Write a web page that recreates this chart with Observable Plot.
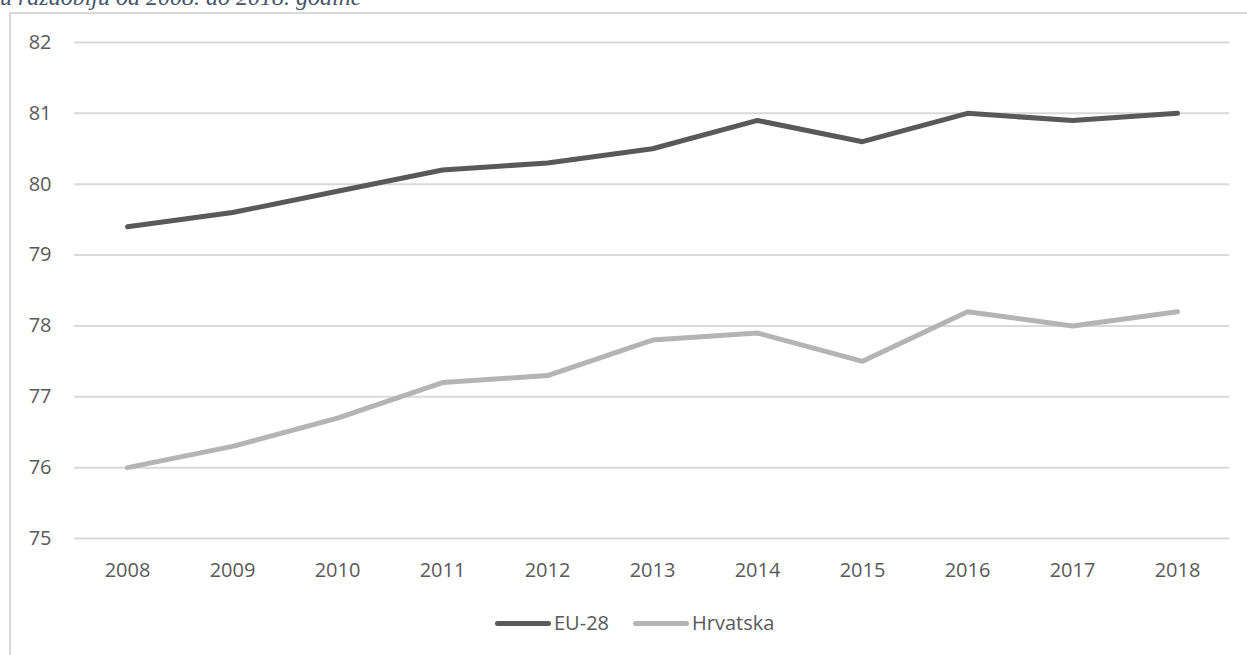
<!DOCTYPE html>
<html>
<head>
<meta charset="utf-8">
<script src="https://cdn.jsdelivr.net/npm/d3@7"></script>
<script src="https://cdn.jsdelivr.net/npm/@observablehq/plot@0.6"></script>
<style>
  body { margin: 0; background: #fff; }
  #wrap { position: relative; width: 1247px; height: 655px; overflow: hidden; background: #fff; }
  #title { position: absolute; left: 0; top: -15px; line-height: 24px; font-family: "Liberation Serif", "DejaVu Serif", serif; font-style: italic; font-size: 24px; color: #44546a; white-space: nowrap; }
  #frame { position: absolute; left: 9px; top: 12px; width: 1300px; height: 700px; border-left: 2px solid #d9d9d9; border-top: 2px solid #d9d9d9; }
  #chart { position: absolute; left: 0; top: 0; }
  #legend { position: absolute; left: 495px; top: 611px; height: 24px; line-height: 24px; display: flex; align-items: center; font-family: "Open Sans", sans-serif; font-size: 20px; color: #595959; }
  .item { display: flex; align-items: center; margin-right: 24px; }
  .sw { width: 56px; height: 5px; border-radius: 3px; margin-right: 3px; }
</style>
</head>
<body>
<div id="wrap">
  <div id="title">u razdoblju od 2008. do 2018. godine</div>
  <div id="frame"></div>
  <div id="chart"></div>
  <div id="legend"></div>
</div>
<script>
const years = ["2008","2009","2010","2011","2012","2013","2014","2015","2016","2017","2018"];
const eu28 = [79.4, 79.6, 79.9, 80.2, 80.3, 80.5, 80.9, 80.6, 81.0, 80.9, 81.0];
const hrvatska = [76.0, 76.3, 76.7, 77.2, 77.3, 77.8, 77.9, 77.5, 78.2, 78.0, 78.2];
const yTicks = [75, 76, 77, 78, 79, 80, 81, 82];
const seriesNames = ["EU-28", "Hrvatska"];
const seriesColors = ["#595959", "#b4b4b4"];

const data = [];
years.forEach((y, i) => {
  data.push({year: y, value: eu28[i], series: seriesNames[0]});
  data.push({year: y, value: hrvatska[i], series: seriesNames[1]});
});

const chart = Plot.plot({
  width: 1247,
  height: 600,
  marginTop: 42,
  marginBottom: 62,
  marginLeft: 74,
  marginRight: 18,
  style: {fontFamily: "'Open Sans', sans-serif", fontSize: "20px", color: "#595959", background: "transparent"},
  x: {type: "point", domain: years, padding: 0.5, label: null},
  y: {domain: [75, 82], label: null},
  color: {domain: seriesNames, range: seriesColors},
  marks: [
    Plot.ruleY(yTicks, {stroke: "#d9d9d9", strokeWidth: 2}),
    Plot.axisY(yTicks, {tickSize: 0, tickPadding: 23, tickFormat: "d", label: null, fill: "#595959"}),
    Plot.axisX(years, {tickSize: 0, tickPadding: 24, label: null, fill: "#595959"}),
    Plot.line(data, {x: "year", y: "value", z: "series", stroke: "series", strokeWidth: 5, strokeLinecap: "round", strokeLinejoin: "round"})
  ]
});
document.getElementById("chart").appendChild(chart);

const legend = document.getElementById("legend");
seriesNames.forEach((n, i) => {
  const it = document.createElement("div");
  it.className = "item";
  const sw = document.createElement("div");
  sw.className = "sw";
  sw.style.background = seriesColors[i];
  const t = document.createElement("span");
  t.textContent = n;
  it.appendChild(sw); it.appendChild(t);
  legend.appendChild(it);
});
</script>
</body>
</html>
